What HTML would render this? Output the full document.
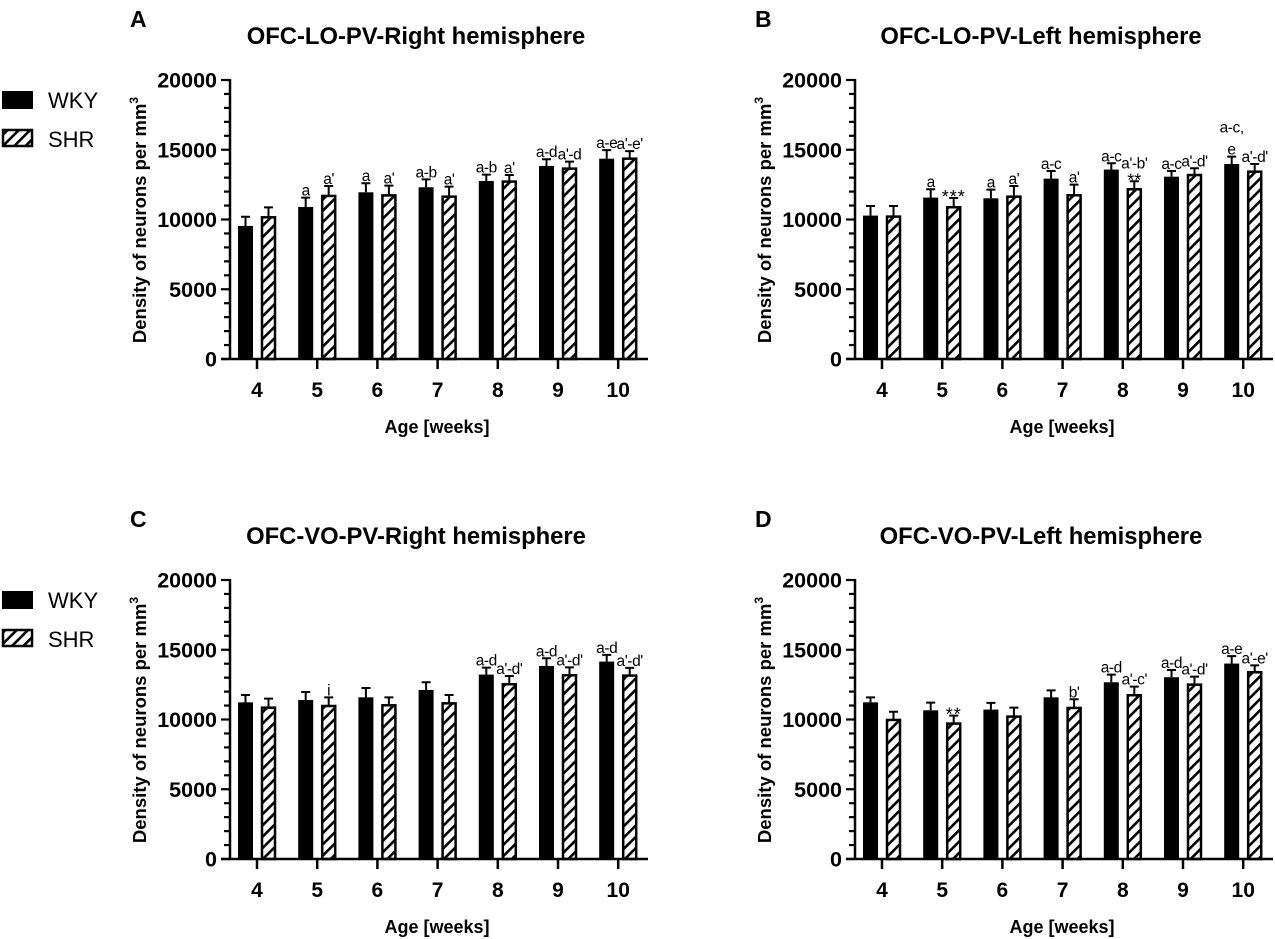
<!DOCTYPE html>
<html><head><meta charset="utf-8"><style>
body{margin:0;background:#fff;}
svg{display:block;font-family:"Liberation Sans",Arial,sans-serif;}
</style></head><body>
<svg id="fig" width="1275" height="939" viewBox="0 0 1275 939">
<defs>
<pattern id="hatch" patternUnits="userSpaceOnUse" width="8" height="8" patternTransform="rotate(45)">
<rect width="8" height="8" fill="#fff"/><rect x="0" y="0" width="2.6" height="8" fill="#000"/>
</pattern>
</defs>
<g>
<rect x="2" y="91" width="31" height="18" fill="#000"/>
<text x="48" y="108" font-size="22">WKY</text>
<rect x="3" y="130" width="29" height="16" fill="url(#hatch)" stroke="#000" stroke-width="2.5"/>
<text x="48" y="147" font-size="22">SHR</text>
</g>
<g>
<rect x="2" y="591" width="31" height="18" fill="#000"/>
<text x="48" y="608" font-size="22">WKY</text>
<rect x="3" y="630" width="29" height="16" fill="url(#hatch)" stroke="#000" stroke-width="2.5"/>
<text x="48" y="647" font-size="22">SHR</text>
</g>
</svg>
<script>
const categories = ['4','5','6','7','8','9','10'];
const yTicks = [0,5000,10000,15000,20000];
const aWky = [9540,10900,11950,12310,12760,13840,14360];
const aWkyErr = [10200,11570,12600,12880,13220,14320,14970];
const aShr = [10230,11760,11800,11710,12790,13720,14430];
const aShrErr = [10870,12400,12430,12360,13190,14150,14900];
const aWkyLab = ['','a','a','a-b','a-b','a-d','a-e'];
const aShrLab = ['',"a'","a'","a'","a'","a'-d","a'-e'"];
const bWky = [10280,11570,11520,12930,13580,13070,13980];
const bWkyErr = [10970,12170,12140,13480,14030,13480,14510];
const bShr = [10280,10950,11710,11810,12240,13260,13500];
const bShrErr = [10970,11540,12400,12500,12740,13670,13980];
const bWkyLab = ['','a','a','a-c','a-c','a-c','a-c,|e'];
const bShrLab = ['','***',"a'","a'","a'-b'|**","a'-d'","a'-d'"];
const cWky = [11230,11400,11590,12120,13220,13840,14150];
const cWkyErr = [11760,11970,12260,12670,13720,14390,14630];
const cShr = [10920,11040,11090,11230,12600,13240,13220];
const cShrErr = [11500,11590,11590,11760,13120,13740,13700];
const cWkyLab = ['','','','','a-d','a-d','a-d'];
const cShrLab = ['','i','','',"a'-d'","a'-d'","a'-d'"];
const dWky = [11230,10660,10710,11590,12670,13030,14010];
const dWkyErr = [11590,11210,11190,12090,13220,13550,14540];
const dShr = [10040,9780,10280,10900,11810,12570,13460];
const dShrErr = [10560,10280,10850,11450,12360,13070,13880];
const dWkyLab = ['','','','','a-d','a-d','a-e'];
const dShrLab = ['','**','',"b'","a'-c'","a'-d'","a'-e'"];

const NS='http://www.w3.org/2000/svg';
const svg=document.getElementById('fig');
function mk(tag,attrs,parent,text){const e=document.createElementNS(NS,tag);for(const k in attrs)e.setAttribute(k,attrs[k]);if(text!==undefined)e.textContent=text;parent.appendChild(e);return e;}

function panel(letter,title,ax,top,wky,wkyE,shr,shrE,wLab,sLab){
  const zero=top+279, yMax=20000;
  const y=v=>zero-v/yMax*279;
  const x0=ax+27, step=60.2;
  const xc=i=>x0+i*step;
  const g=mk('g',{},svg);
  
  
  const lt=mk('text',{x:ax-100,y:top-53,'font-size':23,'font-weight':'bold'},g,letter);
  
  
  const tt=mk('text',{x:ax+186,y:top-36,'font-size':23.8,'font-weight':'bold','text-anchor':'middle'},g,title);
  
  
  const yl=mk('text',{transform:`translate(${ax-84},${top+140}) rotate(-90)`,'font-size':18.5,'font-weight':'bold','text-anchor':'middle'},g,'');
  
  
  yl.appendChild(document.createTextNode('Density of neurons per mm'));
  mk('tspan',{dy:-8,'font-size':12},yl,'3');
  const xl=mk('text',{x:ax+207,y:zero+74,'font-size':18,'font-weight':'bold','text-anchor':'middle'},g,'Age [weeks]');
  
  
  for(let i=0;i<categories.length;i++){
    const c=xc(i);
    const series=[[wky,wkyE,wLab,c-11.5,'wky'],[shr,shrE,sLab,c+11.5,'shr']];
    for(const [vals,errs,labs,bx,nm] of series){
      const v=vals[i], e=errs[i];
      const eb=mk('path',{d:`M${bx} ${y(v)} V${y(e)} M${bx-4.5} ${y(e)} H${bx+4.5}`,stroke:'#000','stroke-width':2,fill:'none'},g);
      
      
      let r;
      if(nm==='wky') r=mk('rect',{x:bx-7.5,y:y(v),width:15,height:zero-y(v),fill:'#000'},g);
      else r=mk('rect',{x:bx-6.5,y:y(v)+1,width:13,height:zero-y(v)-1,fill:'url(#hatch)',stroke:'#000','stroke-width':2.5},g);
      
      
      const lab=labs[i];
      if(lab){
        const parts=lab.split('|');
        let by=y(e)-2;
        if(parts.length===2){
          const isStar=parts[1].indexOf('*')>=0;
          const t2=mk('text',{x:bx,y:isStar?by+7:by,'font-size':isStar?18:15.5,'text-anchor':'middle'},g,parts[1]);
          
          
          by-= isStar?11:22;
        }
        const star=parts[0].indexOf('*')>=0;
        const t=mk('text',{x:bx,y:star?by+7:by,'font-size':star?18:15.5,'text-anchor':'middle','letter-spacing':star?'1':'-0.4'},g,parts[0]);
        
        
      }
    }
    const tk=mk('line',{x1:c,x2:c,y1:zero,y2:zero+10,stroke:'#000','stroke-width':2.5},g);
    
    
    const tl=mk('text',{x:c,y:zero+38,'font-size':21,'font-weight':'bold','text-anchor':'middle'},g,categories[i]);
    
    
  }
  for(let v=0;v<=yMax;v+=1000){
    const major=v%5000===0;
    const t=mk('line',{x1:ax-(major?9:6),x2:ax,y1:y(v),y2:y(v),stroke:'#000','stroke-width':2.2},g);
    
    
  }
  for(const v of yTicks){
    const t=mk('text',{x:ax-13,y:y(v)+7.5,'font-size':21.5,'font-weight':'bold','text-anchor':'end'},g,String(v));
    
    
  }
  const ya=mk('line',{x1:ax,x2:ax,y1:top-1,y2:zero+1,stroke:'#000','stroke-width':2.5},g);
  
  
  const xa=mk('line',{x1:ax-9,x2:ax+418,y1:zero,y2:zero,stroke:'#000','stroke-width':2.5},g);
  
  
}
panel('A','OFC-LO-PV-Right hemisphere',230,80,aWky,aWkyErr,aShr,aShrErr,aWkyLab,aShrLab);
panel('B','OFC-LO-PV-Left hemisphere',855,80,bWky,bWkyErr,bShr,bShrErr,bWkyLab,bShrLab);
panel('C','OFC-VO-PV-Right hemisphere',230,580,cWky,cWkyErr,cShr,cShrErr,cWkyLab,cShrLab);
panel('D','OFC-VO-PV-Left hemisphere',855,580,dWky,dWkyErr,dShr,dShrErr,dWkyLab,dShrLab);
</script>
</body></html>
